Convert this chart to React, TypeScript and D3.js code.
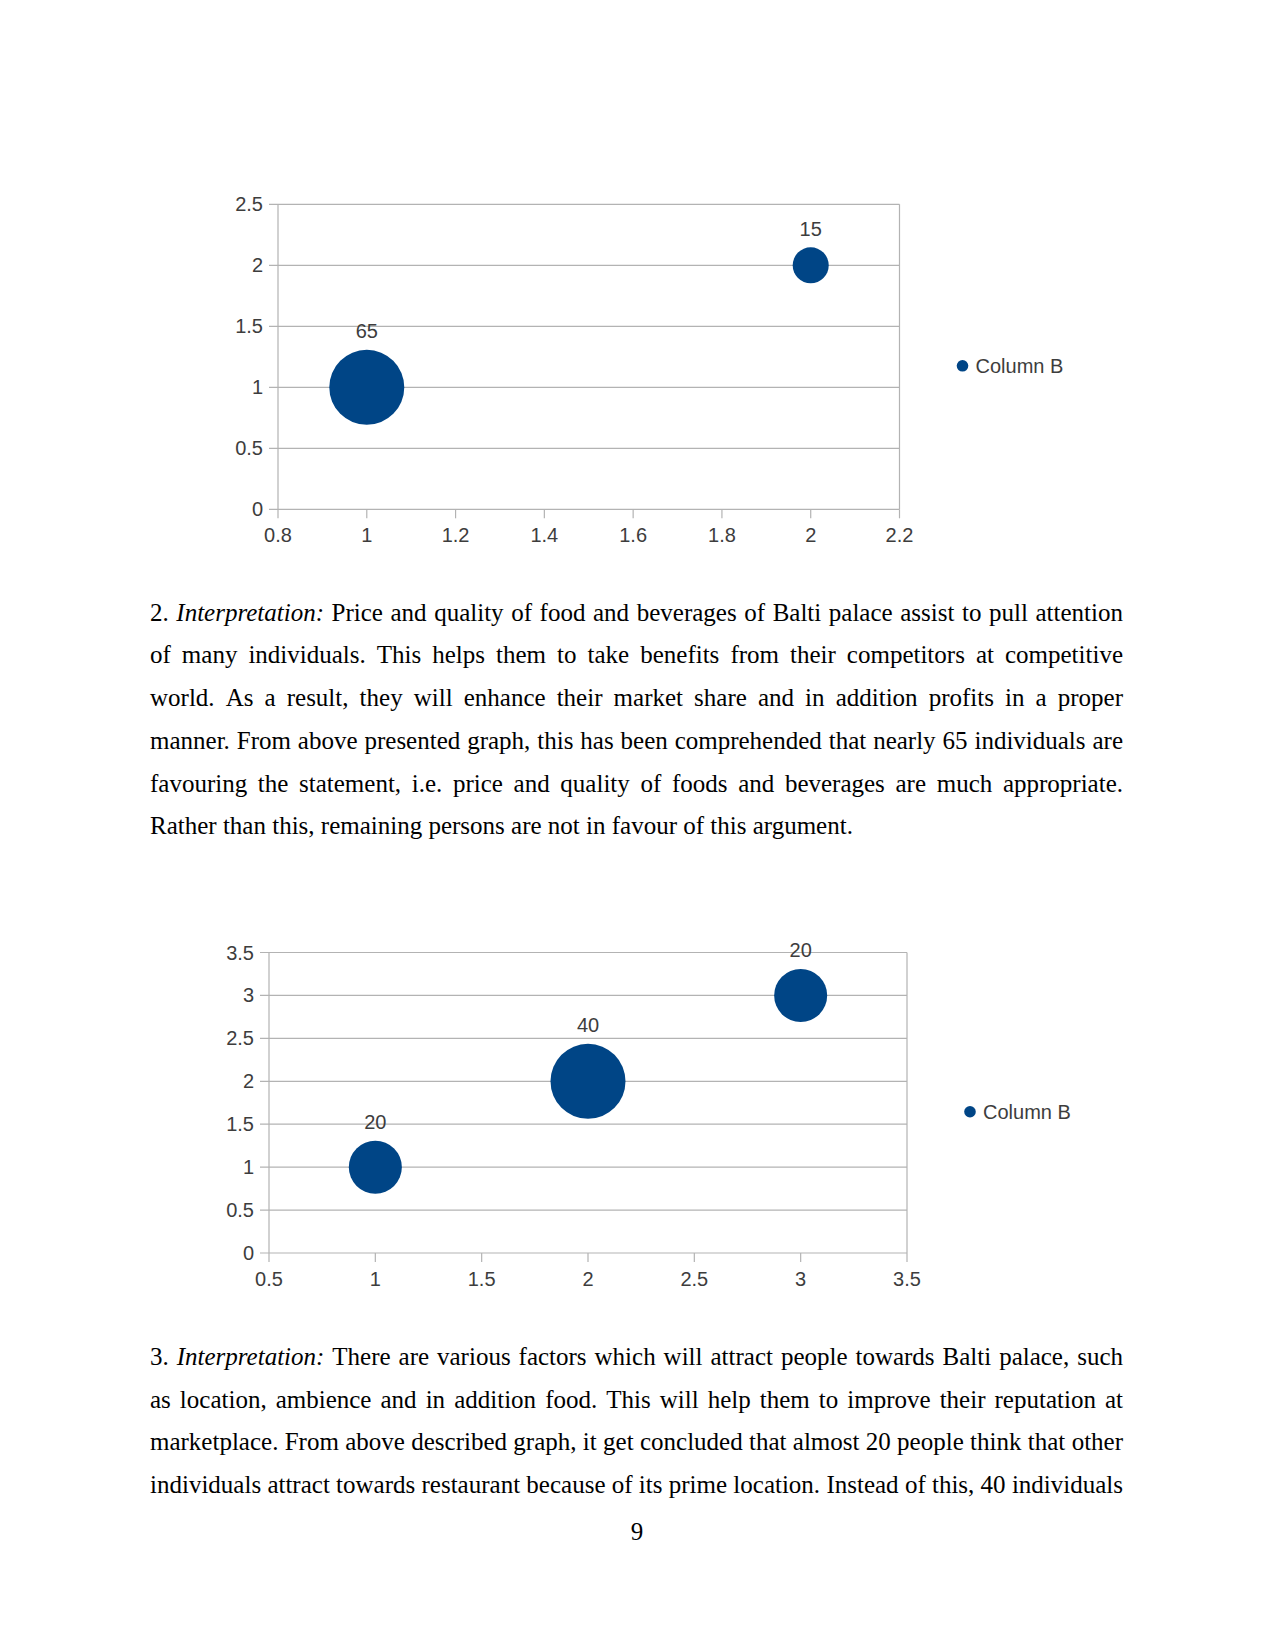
import * as d3 from "d3";
import React, { useEffect, useRef } from "react";

// chart 1 (price and quality)
const chart1X = [1, 2];
const chart1Y = [1, 2];
const chart1Size = [65, 15];
const chart1XTicks = [0.8, 1, 1.2, 1.4, 1.6, 1.8, 2, 2.2];
const chart1YTicks = [0, 0.5, 1, 1.5, 2, 2.5];

// chart 2 (factors attracting people)
const chart2X = [1, 2, 3];
const chart2Y = [1, 2, 3];
const chart2Size = [20, 40, 20];
const chart2XTicks = [0.5, 1, 1.5, 2, 2.5, 3, 3.5];
const chart2YTicks = [0, 0.5, 1, 1.5, 2, 2.5, 3, 3.5];

const seriesName = "Column B";

// body text, one entry per printed line; *word* is italic
const para2Lines = [
   "2. *Interpretation:* Price and quality of food and beverages of Balti palace assist to pull attention",
   "of many individuals. This helps them to take benefits from their competitors at competitive",
   "world. As a result, they will enhance their market share and in addition profits in a proper",
   "manner. From above presented graph, this has been comprehended that nearly 65 individuals are",
   "favouring the statement, i.e. price and quality of foods and beverages are much appropriate.",
   "Rather than this, remaining persons are not in favour of this argument.",
];
const para3Lines = [
   "3. *Interpretation:* There are various factors which will attract people towards Balti palace, such",
   "as location, ambience and in addition food. This will help them to improve their reputation at",
   "marketplace. From above described graph, it get concluded that almost 20 people think that other",
   "individuals attract towards restaurant because of its prime location. Instead of this, 40 individuals",
];
const pageNumber = "9";

const BLUE = "#004586";
const GRID = "#b3b3b3";
const LABEL = "#3d3d3d";
const SANS = "'Liberation Sans', Arial, sans-serif";
const SERIF = "'Liberation Serif', 'Times New Roman', serif";

function drawBubbleChart(svg, box, xDomain, yDomain, xTicks, yTicks, xs, ys, sizes) {
   const x = d3.scaleLinear().domain(xDomain).range([box.left, box.right]);
   const y = d3.scaleLinear().domain(yDomain).range([box.bottom, box.top]);
   const r = d3.scaleSqrt().domain([0, d3.max(sizes)]).range([0, 37.5]);
   const tick = 9;

   const g = svg.append("g").classed("bubble-chart", true);

   // horizontal grid lines
   g.selectAll(".grid")
      .data(yTicks)
      .join("line")
      .attr("x1", box.left - tick)
      .attr("x2", box.right)
      .attr("y1", (d) => y(d))
      .attr("y2", (d) => y(d))
      .attr("stroke", GRID)
      .attr("stroke-width", 1.2);

   // left and right walls
   [box.left, box.right].forEach((px) => {
      g.append("line")
         .attr("x1", px)
         .attr("x2", px)
         .attr("y1", box.top)
         .attr("y2", box.bottom)
         .attr("stroke", GRID)
         .attr("stroke-width", 1.2);
   });

   // x ticks
   g.selectAll(".xtick")
      .data(xTicks)
      .join("line")
      .attr("x1", (d) => x(d))
      .attr("x2", (d) => x(d))
      .attr("y1", box.bottom)
      .attr("y2", box.bottom + tick)
      .attr("stroke", GRID)
      .attr("stroke-width", 1.2);

   g.selectAll(".xlabel")
      .data(xTicks)
      .join("text")
      .attr("x", (d) => x(d))
      .attr("y", box.bottom + 33)
      .attr("text-anchor", "middle")
      .attr("font-family", SANS)
      .attr("font-size", 20)
      .attr("fill", LABEL)
      .text((d) => String(d));

   g.selectAll(".ylabel")
      .data(yTicks)
      .join("text")
      .attr("x", box.left - 15)
      .attr("y", (d) => y(d))
      .attr("dy", "0.35em")
      .attr("text-anchor", "end")
      .attr("font-family", SANS)
      .attr("font-size", 20)
      .attr("fill", LABEL)
      .text((d) => String(d));

   const pts = xs.map((v, i) => ({ x: v, y: ys[i], s: sizes[i] }));

   g.selectAll(".bubble")
      .data(pts)
      .join("circle")
      .attr("cx", (d) => x(d.x))
      .attr("cy", (d) => y(d.y))
      .attr("r", (d) => r(d.s))
      .attr("fill", BLUE);

   g.selectAll(".value")
      .data(pts)
      .join("text")
      .attr("x", (d) => x(d.x))
      .attr("y", (d) => y(d.y) - r(d.s) - 11.5)
      .attr("text-anchor", "middle")
      .attr("font-family", SANS)
      .attr("font-size", 20)
      .attr("fill", LABEL)
      .text((d) => String(d.s));

   // legend
   const lx = box.right + 63;
   const ly = (box.top + box.bottom) / 2 + 9;
   g.append("circle").attr("cx", lx).attr("cy", ly).attr("r", 5.8).attr("fill", BLUE);
   g.append("text")
      .attr("x", lx + 13)
      .attr("y", ly)
      .attr("dy", "0.35em")
      .attr("font-family", SANS)
      .attr("font-size", 20)
      .attr("fill", LABEL)
      .text(seriesName);
}

// justified paragraph: every line is spread to the full width unless lastLeft is set
function drawParagraph(svg, lines, firstBaseline, lastLeft) {
   const left = 150;
   const right = 1123;
   const lineHeight = 42.7;
   lines.forEach((line, i) => {
      const justify = !(lastLeft && i === lines.length - 1);
      const words = line.split(" ").map((w) => {
         const italic = w.startsWith("*") && w.endsWith("*");
         return { text: italic ? w.slice(1, -1) : w, italic };
      });
      const yb = firstBaseline + i * lineHeight;
      const nodes = words.map((w) =>
         svg
            .append("text")
            .attr("y", yb)
            .attr("font-family", SERIF)
            .attr("font-size", 25)
            .attr("font-style", w.italic ? "italic" : "normal")
            .attr("fill", "#000")
            .text(w.text)
      );
      const widths = nodes.map((n) => n.node().getComputedTextLength());
      const total = d3.sum(widths);
      const gap = justify && words.length > 1 ? (right - left - total) / (words.length - 1) : 6.25;
      let cx = left;
      nodes.forEach((n, k) => {
         n.attr("x", cx);
         cx += widths[k] + gap;
      });
   });
}

export default function App() {
   const ref = useRef(null);
   useEffect(() => {
      const svg = d3.select(ref.current);
      svg.selectAll("*").remove();
      svg.append("rect").attr("width", 1275).attr("height", 1650).attr("fill", "#fff");

      drawBubbleChart(
         svg,
         { left: 278, right: 899.5, top: 204.3, bottom: 509.3 },
         [0.8, 2.2],
         [0, 2.5],
         chart1XTicks,
         chart1YTicks,
         chart1X,
         chart1Y,
         chart1Size
      );
      drawBubbleChart(
         svg,
         { left: 269, right: 907, top: 952.5, bottom: 1253 },
         [0.5, 3.5],
         [0, 3.5],
         chart2XTicks,
         chart2YTicks,
         chart2X,
         chart2Y,
         chart2Size
      );

      drawParagraph(svg, para2Lines, 620.7, true);
      drawParagraph(svg, para3Lines, 1365, false);

      svg.append("text")
         .attr("x", 637)
         .attr("y", 1540)
         .attr("text-anchor", "middle")
         .attr("font-family", SERIF)
         .attr("font-size", 25)
         .text(pageNumber);
   }, []);

   return (
      <svg
         ref={ref}
         width={1275}
         height={1650}
         style={{ position: "absolute", left: 0, top: 0, display: "block" }}
      ></svg>
   );
}
